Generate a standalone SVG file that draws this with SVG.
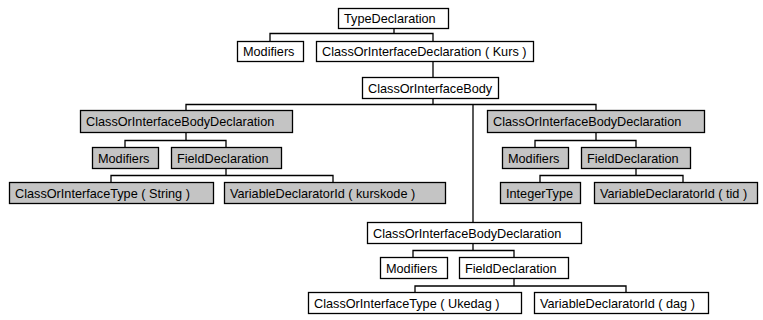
<svg xmlns="http://www.w3.org/2000/svg" width="763" height="320" viewBox="0 0 763 320">
<style>
rect{stroke:#000;stroke-width:1.3}
.w{fill:#fff}
.g{fill:#c4c4c4}
text{font-family:"Liberation Sans",Arial,Helvetica,sans-serif;font-size:12.7px;fill:#000}
#connectors path{fill:none;stroke:#000;stroke-width:1.3}
</style>
<rect width="763" height="320" fill="#fff" style="stroke:none"/>
<g id="connectors">
<path d="M394 28V33.5M270 41V33.5H433V41"/>
<path d="M433 62V77"/>
<path d="M433 98V104.5M186 110V104.5H596V110M473 104.5V222"/>
<path d="M186 132V140.5M125 147V140.5H226V147"/>
<path d="M596 132V140.5M535 147V140.5H636V147"/>
<path d="M226 168V175.5M111 182V175.5H333V182"/>
<path d="M636 168V175.5M540 182V175.5H683V182"/>
<path d="M473 243V250.5M413 257V250.5H514V257"/>
<path d="M514 278V286M415 292V286H626V292"/>
</g>
<g id="n1"><rect class="w" x="338.5" y="8.5" width="110" height="20"/><text x="344" y="23">TypeDeclaration</text></g>
<g id="n2"><rect class="w" x="237.5" y="41.5" width="66" height="20"/><text x="243" y="56">Modifiers</text></g>
<g id="n3"><rect class="w" x="316.5" y="41.5" width="217" height="20"/><text x="322" y="56">ClassOrInterfaceDeclaration ( Kurs )</text></g>
<g id="n4"><rect class="w" x="362.5" y="77.5" width="136" height="21"/><text x="368" y="92.5">ClassOrInterfaceBody</text></g>
<g id="n5"><rect class="g" x="80.5" y="110.5" width="212" height="22"/><text x="86" y="126">ClassOrInterfaceBodyDeclaration</text></g>
<g id="n6"><rect class="g" x="92.5" y="147.5" width="66" height="21"/><text x="98" y="162.5">Modifiers</text></g>
<g id="n7"><rect class="g" x="171.5" y="147.5" width="110" height="21"/><text x="177" y="162.5">FieldDeclaration</text></g>
<g id="n8"><rect class="g" x="9.5" y="182.5" width="204" height="21"/><text x="15" y="197.5">ClassOrInterfaceType ( String )</text></g>
<g id="n9"><rect class="g" x="224.5" y="182.5" width="221" height="21"/><text x="230" y="197.5">VariableDeclaratorId ( kurskode )</text></g>
<g id="n10"><rect class="g" x="487.5" y="110.5" width="217" height="22"/><text x="493" y="126">ClassOrInterfaceBodyDeclaration</text></g>
<g id="n11"><rect class="g" x="502.5" y="147.5" width="66" height="21"/><text x="508" y="162.5">Modifiers</text></g>
<g id="n12"><rect class="g" x="581.5" y="147.5" width="109" height="21"/><text x="587" y="162.5">FieldDeclaration</text></g>
<g id="n13"><rect class="g" x="500.5" y="182.5" width="80" height="21"/><text x="506" y="197.5">IntegerType</text></g>
<g id="n14"><rect class="g" x="594.5" y="182.5" width="163" height="21"/><text x="600" y="197.5">VariableDeclaratorId ( tid )</text></g>
<g id="n15"><rect class="w" x="367.5" y="222.5" width="214" height="21"/><text x="373" y="237.5">ClassOrInterfaceBodyDeclaration</text></g>
<g id="n16"><rect class="w" x="380.5" y="257.5" width="67" height="21"/><text x="386" y="272.5">Modifiers</text></g>
<g id="n17"><rect class="w" x="459.5" y="257.5" width="109" height="21"/><text x="465" y="272.5">FieldDeclaration</text></g>
<g id="n18"><rect class="w" x="308.5" y="292.5" width="213" height="21"/><text x="314" y="307.5">ClassOrInterfaceType ( Ukedag )</text></g>
<g id="n19"><rect class="w" x="534.5" y="292.5" width="174" height="21"/><text x="540" y="307.5">VariableDeclaratorId ( dag )</text></g>
</svg>
